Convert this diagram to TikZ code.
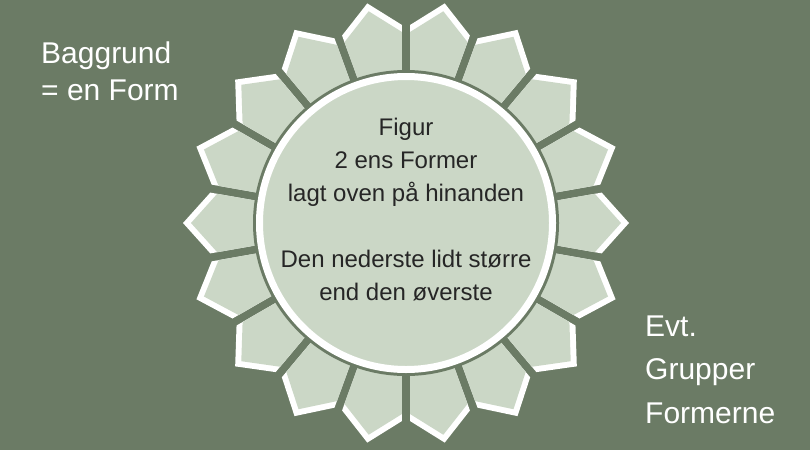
\documentclass[tikz,border=0pt]{standalone}
\usepackage{fontspec}
\setmainfont{Liberation Sans}
\definecolor{moss}{HTML}{6B7B65}
\definecolor{sage}{HTML}{CBD7C6}
\definecolor{ink}{HTML}{262626}
\begin{document}
\begin{tikzpicture}[x=1pt,y=-1pt,
    petal/.style={fill=white},
    leaf/.style={fill=sage},
    sidetext/.style={text=white,align=left,inner sep=0pt}]
  \fill[moss] (0,0) rectangle (810,450);
  \useasboundingbox (0,0) rectangle (810,450);
  \coordinate (o) at (406,223);

  % outer ring of petals, white under sage
  \foreach \a in {0,20,...,340}{
    \begin{scope}[shift={(o)},rotate=\a]
      \fill[petal] (128.7,18.6) -- (195.7,30.4) -- (223,0) -- (195.7,-30.4) -- (128.7,-18.6) -- cycle;
      \fill[leaf] (128.7,18.6) -- (188.8,29.2) -- (215,0) -- (188.8,-29.2) -- (128.7,-18.6) -- cycle;
    \end{scope}
  }

  \node[circle,fill=moss,minimum size=306pt,inner sep=0pt] (rim) at (o) {};
  \node[circle,fill=sage,draw=white,line width=7pt,minimum size=293pt,inner sep=0pt] (core) at (o) {};

  % anchor=base sits on the last line
  \node[font=\fontsize{24}{33}\selectfont,text=ink,align=center,anchor=base,inner sep=0pt] (fig) at (406,300)
    {Figur\\2 ens Former\\lagt oven på hinanden\\[33pt]Den nederste lidt større\\end den øverste};

  \node[sidetext,font=\fontsize{30}{37}\selectfont,anchor=base west] (back) at (41,100) {Baggrund\\= en Form};
  \node[sidetext,font=\fontsize{30}{43.5}\selectfont,anchor=base west] (extra) at (645,423) {Evt.\\Grupper\\Formerne};
\end{tikzpicture}
\end{document}
